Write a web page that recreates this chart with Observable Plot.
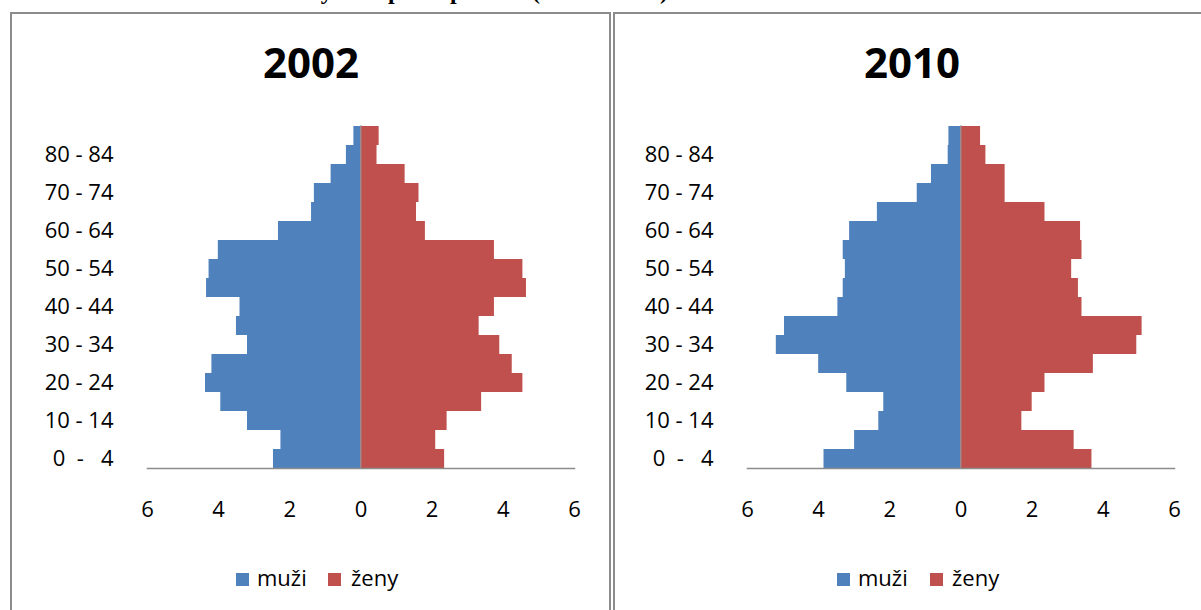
<!DOCTYPE html>
<html>
<head>
<meta charset="utf-8">
<script src="https://cdn.jsdelivr.net/npm/d3@7"></script>
<script src="https://cdn.jsdelivr.net/npm/@observablehq/plot@0.6"></script>
<style>
  html, body { margin: 0; padding: 0; background: #fff; }
  #page { position: relative; width: 1201px; height: 610px; overflow: hidden; background: #fff; font-family: "Open Sans", sans-serif; }
  .panel { position: absolute; border: 2px solid #8c8c8c; box-sizing: border-box; }
  .ptitle { position: absolute; font-family: "Open Sans", sans-serif; font-weight: 700; font-size: 42px; line-height: 42px; width: 200px; text-align: center; color: #000; }
  .legtext { position: absolute; font-family: "Open Sans", sans-serif; font-size: 22px; line-height: 22px; color: #000; white-space: nowrap; }
  .sw { position: absolute; width: 13px; height: 13px; }
  .chart { position: absolute; }
  #toptitle { position: absolute; left: 0; top: -21px; width: 668px; text-align: right; font-family: "Liberation Serif", serif; font-weight: 700; font-size: 24px; line-height: 24px; white-space: nowrap; color: #000; }
</style>
</head>
<body>
<div id="page">
  <div id="toptitle">Tab. 4: Věkové složení obyvatel podle pohlaví (2002 a 2010)</div>
  <div class="panel" style="left:10px; top:12px; width:601px; height:640px;"></div>
  <div class="panel" style="left:613px; top:12px; width:601px; height:640px;"></div>
  <div class="ptitle" style="left:211px; top:41px;">2002</div>
  <div class="ptitle" style="left:812px; top:41px;">2010</div>
  <div id="chart2002" class="chart" style="left:0px; top:100px;"></div>
  <div id="chart2010" class="chart" style="left:600px; top:100px;"></div>
  <div class="sw" style="left:236px; top:573px; background:#4F81BD;"></div>
  <div class="legtext" style="left:257px; top:566px;">muži</div>
  <div class="sw" style="left:328px; top:573px; background:#C0504D;"></div>
  <div class="legtext" style="left:351px; top:566px;">ženy</div>
  <div class="sw" style="left:837px; top:573px; background:#4F81BD;"></div>
  <div class="legtext" style="left:858px; top:566px;">muži</div>
  <div class="sw" style="left:930px; top:573px; background:#C0504D;"></div>
  <div class="legtext" style="left:952px; top:566px;">ženy</div>
</div>
<script>
// Age groups, from youngest to oldest
const ages = ["0 - 4","5 - 9","10 - 14","15 - 19","20 - 24","25 - 29","30 - 34","35 - 39","40 - 44",
              "45 - 49","50 - 54","55 - 59","60 - 64","65 - 69","70 - 74","75 - 79","80 - 84","85+"];
// Labelled ticks on the age axis
const ageTicks = ["0 - 4","10 - 14","20 - 24","30 - 34","40 - 44","50 - 54","60 - 64","70 - 74","80 - 84"];
// Share of population (%), per age group
const muzi2002 = [2.46,2.25,3.19,3.94,4.37,4.19,3.19,3.50,3.40,4.34,4.27,4.01,2.32,1.39,1.31,0.84,0.41,0.20];
const zeny2002 = [2.35,2.10,2.42,3.39,4.55,4.25,3.90,3.32,3.75,4.65,4.55,3.75,1.81,1.56,1.63,1.24,0.45,0.51];
const muzi2010 = [3.85,2.99,2.31,2.17,3.21,4.00,5.19,4.96,3.46,3.31,3.25,3.31,3.13,2.35,1.23,0.83,0.36,0.34];
const zeny2010 = [3.68,3.18,1.71,2.00,2.36,3.72,4.94,5.09,3.40,3.30,3.11,3.40,3.36,2.36,1.24,1.24,0.70,0.55];
// Value-axis ticks
const xTicks = [-6,-4,-2,0,2,4,6];

const BLUE = "#4F81BD", RED = "#C0504D", AXIS = "#8c8c8c";

function pyramid(muzi, zeny, width) {
  const rows = ages.map((a, i) => ({age: a, muzi: -muzi[i], zeny: zeny[i]}));
  return Plot.plot({
    width: width,
    height: 440,
    marginLeft: 147,
    marginRight: width - 574,
    marginTop: 25,
    marginBottom: 72,
    style: {fontFamily: "Open Sans, sans-serif", fontSize: "22px", color: "#000", background: "transparent", overflow: "visible"},
    x: {domain: [-6, 6]},
    y: {domain: ages.slice().reverse(), padding: 0},
    marks: [
      Plot.barX(rows, {x: "muzi", y: "age", fill: BLUE}),
      Plot.barX(rows, {x: "zeny", y: "age", fill: RED}),
      Plot.ruleX([0], {stroke: AXIS, strokeWidth: 1}),
      Plot.frame({anchor: "bottom", stroke: AXIS, strokeWidth: 1.5}),
      Plot.axisX({ticks: xTicks, tickSize: 0, tickPadding: 33, tickFormat: d => Math.abs(d), label: null, fill: "#000"}),
      Plot.axisY({ticks: ageTicks, tickSize: 0, tickPadding: 34, label: null, fill: "#000",
        tickFormat: d => d === "0 - 4" ? "0\u00a0\u00a0-\u00a0\u00a0\u00a04" : d})
    ]
  });
}

const c1 = pyramid(muzi2002, zeny2002, 600);
c1.style.maxWidth = "none";
document.getElementById("chart2002").appendChild(c1);
const c2 = pyramid(muzi2010, zeny2010, 600);
c2.style.maxWidth = "none";
document.getElementById("chart2010").appendChild(c2);
</script>
</body>
</html>
